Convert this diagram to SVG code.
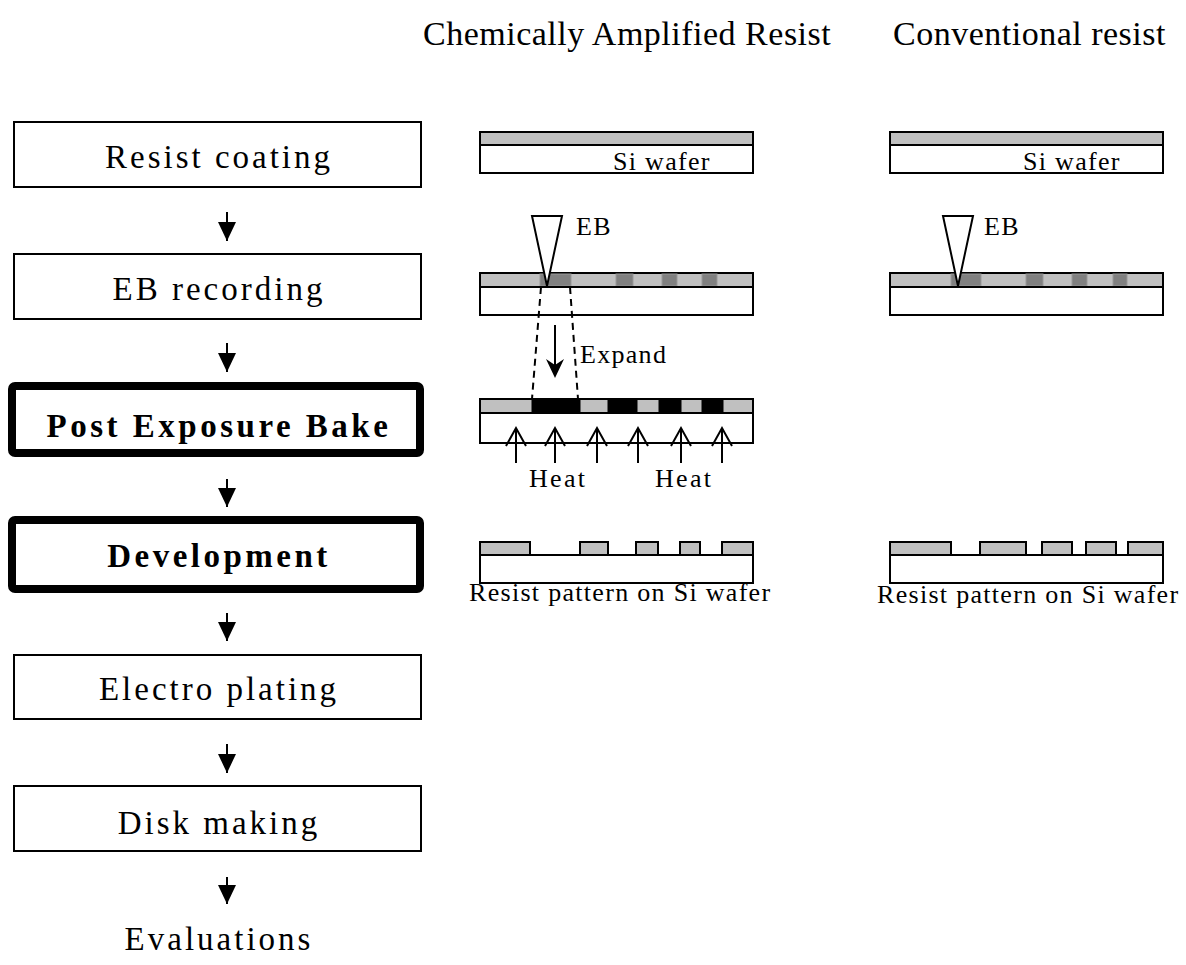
<svg xmlns="http://www.w3.org/2000/svg" width="1186" height="965" viewBox="0 0 1186 965">
<defs>
<style>
.t{font-family:"Liberation Serif","Times New Roman",serif;fill:#000}
.box{fill:#fff;stroke:#000;stroke-width:2}
.bbox{fill:#fff;stroke:#000;stroke-width:8}
.lbl{font-size:33px;letter-spacing:3px;text-anchor:middle}
.blbl{font-size:33px;letter-spacing:3.5px;font-weight:bold;text-anchor:middle}
.sm{font-size:26px;letter-spacing:1.3px}
.hd{font-size:34px;letter-spacing:0.5px}
.res{fill:#c0c0c0;stroke:#000;stroke-width:2}
.waf{fill:#fff;stroke:#000;stroke-width:2}
.dot{fill:#808080;stroke:#999;stroke-width:1}
.blk{fill:#000;stroke:#000;stroke-width:1}
.flow{stroke:#000;stroke-width:2;fill:none;marker-end:url(#ah)}
.heat{stroke:#000;stroke-width:2;fill:none}
.dash{stroke:#000;stroke-width:2;fill:none;stroke-dasharray:7 5}
.beam{fill:#fff;stroke:#000;stroke-width:2}
</style>
<marker id="ah" viewBox="0 0 19 18" refX="19" refY="9" markerWidth="19" markerHeight="18" markerUnits="userSpaceOnUse" orient="auto">
<path d="M0,0 L19,9 L0,18 Z" fill="#000"/>
</marker>
</defs>
<rect width="1186" height="965" fill="#fff"/>

<!-- headings -->
<text class="t hd" x="423" y="45">Chemically Amplified Resist</text>
<text class="t hd" x="893" y="45">Conventional resist</text>

<!-- flow nodes -->
<g id="node-resist-coating">
<rect class="box" x="14" y="122" width="407" height="65"/>
<text class="t lbl" x="219" y="168">Resist coating</text>
</g>
<g id="node-eb-recording">
<rect class="box" x="14" y="254" width="407" height="65"/>
<text class="t lbl" x="219" y="300">EB recording</text>
</g>
<g id="node-peb">
<rect class="bbox" x="12" y="386" width="408" height="67" rx="3"/>
<text class="t blbl" x="219" y="437">Post Exposure Bake</text>
</g>
<g id="node-development">
<rect class="bbox" x="12" y="520" width="408" height="69" rx="3"/>
<text class="t blbl" x="219" y="567">Development</text>
</g>
<g id="node-electro-plating">
<rect class="box" x="14" y="655" width="407" height="64"/>
<text class="t lbl" x="219" y="700">Electro plating</text>
</g>
<g id="node-disk-making">
<rect class="box" x="14" y="786" width="407" height="65"/>
<text class="t lbl" x="219" y="834">Disk making</text>
</g>
<g id="node-evaluations">
<text class="t lbl" x="219" y="950">Evaluations</text>
</g>

<!-- connectors -->
<g id="connectors">
<line class="flow" x1="227" y1="212" x2="227" y2="241"/>
<line class="flow" x1="227" y1="343" x2="227" y2="372"/>
<line class="flow" x1="227" y1="479" x2="227" y2="507"/>
<line class="flow" x1="227" y1="613" x2="227" y2="641"/>
<line class="flow" x1="227" y1="744" x2="227" y2="773"/>
<line class="flow" x1="227" y1="877" x2="227" y2="904"/>
</g>

<!-- Chemically amplified resist column -->
<g id="car-coating">
<rect class="res" x="480" y="132" width="273" height="13"/>
<rect class="waf" x="480" y="145" width="273" height="28"/>
<text class="t sm" x="613" y="170">Si wafer</text>
</g>
<g id="car-eb">
<rect class="res" x="480" y="273" width="273" height="14"/>
<rect class="dot" x="540" y="274" width="31" height="12"/>
<rect class="dot" x="616" y="274" width="17" height="12"/>
<rect class="dot" x="662" y="274" width="15" height="12"/>
<rect class="dot" x="702" y="274" width="15" height="12"/>
<rect class="waf" x="480" y="287" width="273" height="28"/>
<polygon class="beam" points="532,216 562,216 547,286"/>
<text class="t sm" x="576" y="235">EB</text>
</g>
<g id="car-expand">
<line class="dash" x1="541" y1="287" x2="532" y2="399"/>
<line class="dash" x1="570" y1="287" x2="578" y2="399"/>
<line x1="555" y1="325" x2="555" y2="368" stroke="#000" stroke-width="2"/>
<path d="M546,359 L555,378 L564,359 L555,365 Z" fill="#000"/>
<text class="t sm" x="580" y="363">Expand</text>
</g>
<g id="car-peb">
<rect class="res" x="480" y="399" width="273" height="14"/>
<rect class="blk" x="532" y="400" width="48" height="12"/>
<rect class="blk" x="608" y="400" width="29" height="12"/>
<rect class="blk" x="659" y="400" width="22" height="12"/>
<rect class="blk" x="702" y="400" width="21" height="12"/>
<rect class="waf" x="480" y="413" width="273" height="30"/>
<g class="heat">
<path d="M516,463 V428 M506,446 L516,428 L526,446"/>
<path d="M555,463 V428 M545,446 L555,428 L565,446"/>
<path d="M597,463 V428 M587,446 L597,428 L607,446"/>
<path d="M638,463 V428 M628,446 L638,428 L648,446"/>
<path d="M681,463 V428 M671,446 L681,428 L691,446"/>
<path d="M722,463 V428 M712,446 L722,428 L732,446"/>
</g>
<text class="t sm" x="529" y="487" style="letter-spacing:2.3px">Heat</text>
<text class="t sm" x="655" y="487" style="letter-spacing:2.3px">Heat</text>
</g>
<g id="car-development">
<rect class="res" x="480" y="542" width="50" height="13"/>
<rect class="res" x="580" y="542" width="28" height="13"/>
<rect class="res" x="636" y="542" width="22" height="13"/>
<rect class="res" x="680" y="542" width="20" height="13"/>
<rect class="res" x="722" y="542" width="31" height="13"/>
<rect class="waf" x="480" y="555" width="273" height="28"/>
<text class="t sm" x="469" y="601">Resist pattern on Si wafer</text>
</g>

<!-- Conventional resist column -->
<g id="conv-coating">
<rect class="res" x="890" y="132" width="273" height="13"/>
<rect class="waf" x="890" y="145" width="273" height="28"/>
<text class="t sm" x="1023" y="170">Si wafer</text>
</g>
<g id="conv-eb">
<rect class="res" x="890" y="273" width="273" height="14"/>
<rect class="dot" x="951" y="274" width="30" height="12"/>
<rect class="dot" x="1026" y="274" width="17" height="12"/>
<rect class="dot" x="1072" y="274" width="15" height="12"/>
<rect class="dot" x="1113" y="274" width="14" height="12"/>
<rect class="waf" x="890" y="287" width="273" height="28"/>
<polygon class="beam" points="943,216 973,216 958,286"/>
<text class="t sm" x="984" y="235">EB</text>
</g>
<g id="conv-development">
<rect class="res" x="890" y="542" width="61" height="13"/>
<rect class="res" x="980" y="542" width="46" height="13"/>
<rect class="res" x="1042" y="542" width="30" height="13"/>
<rect class="res" x="1086" y="542" width="30" height="13"/>
<rect class="res" x="1128" y="542" width="35" height="13"/>
<rect class="waf" x="890" y="555" width="273" height="28"/>
<text class="t sm" x="877" y="603">Resist pattern on Si wafer</text>
</g>
</svg>
